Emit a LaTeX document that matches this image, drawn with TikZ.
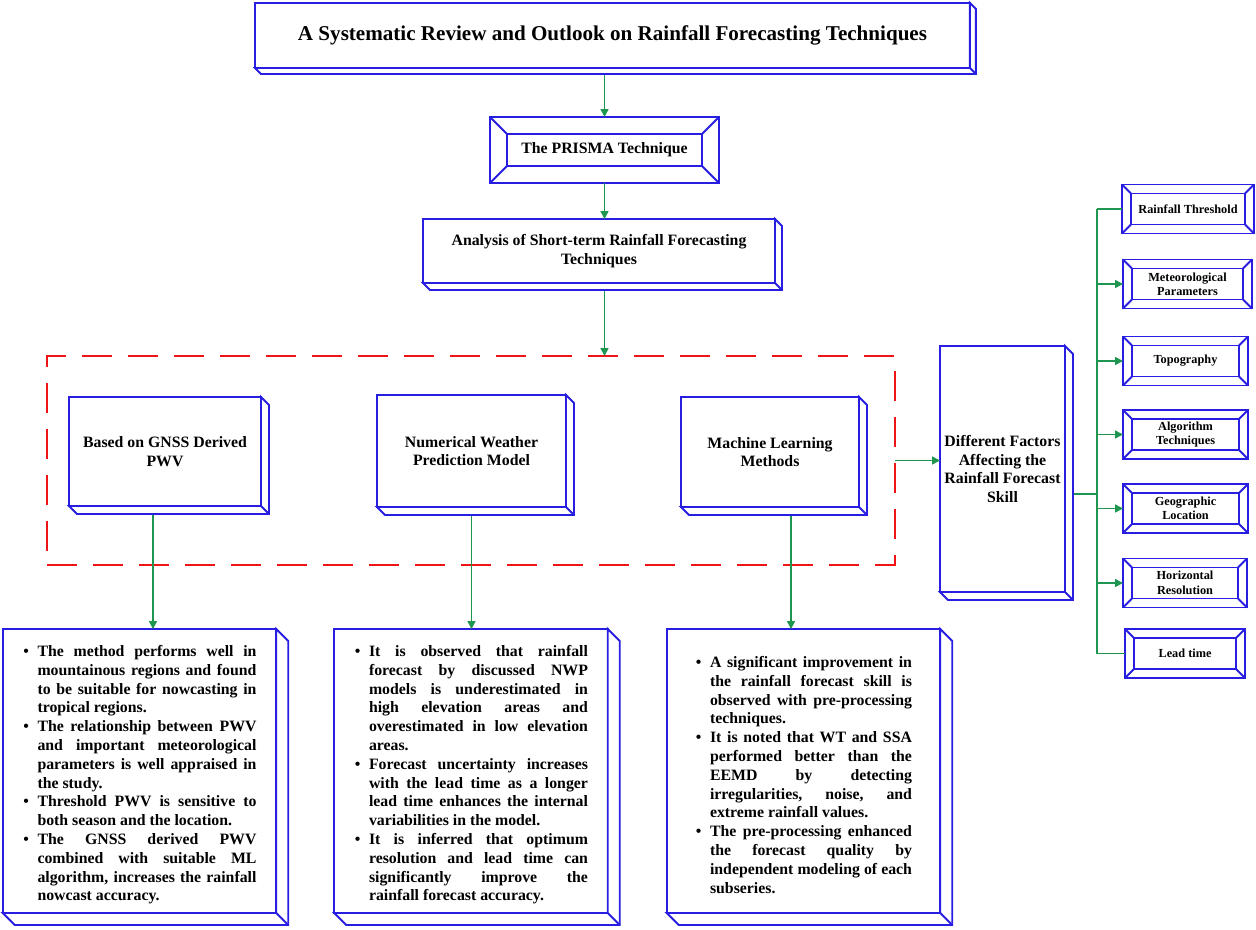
\documentclass[tikz,border=0pt]{standalone}
\usepackage{fontspec}
\setmainfont{Liberation Serif}
\usepackage{enumitem}
\usetikzlibrary{arrows.meta}
\definecolor{BoxBlue}{RGB}{40,30,225}
\definecolor{LinkGreen}{RGB}{30,150,80}
\definecolor{FrameRed}{RGB}{240,20,20}
\setlist[itemize]{leftmargin=0.3cm,labelsep=0.17cm,itemsep=0pt,topsep=0pt,parsep=0pt,partopsep=0pt,label=\textbullet}
\tolerance=9999
\hbadness=10000
\begin{document}
\begin{tikzpicture}[x=0.02cm,y=-0.02cm,
        edge/.style={draw=BoxBlue,line width=1.1pt},
        plainbox/.style={edge,fill=white,inner sep=0pt,outer sep=0pt,align=center,font=\fontsize{9}{10.7}\selectfont\bfseries},
        sidebox/.style={plainbox,minimum height=0.98cm,font=\fontsize{7}{8.2}\selectfont\bfseries},
        listbox/.style={plainbox,minimum width=5.47cm,minimum height=5.68cm,text width=4.68cm,align=justify},
        link/.style={draw=LinkGreen,line width=0.85pt},
        arr/.style={link,-{Triangle[length=0.16cm,width=0.16cm]}}]
    \useasboundingbox (0,0) rectangle (1256,929);

    \node[plainbox,minimum width=14.3cm,minimum height=1.3cm,font=\fontsize{12}{14}\selectfont\bfseries] (Title) at (612.5,35.5) {A Systematic Review and Outlook on Rainfall Forecasting Techniques};
    \node[plainbox,minimum width=4.58cm,minimum height=1.32cm] (Prisma) at (604.5,150) {The PRISMA Technique};
    \node[plainbox,minimum width=7.04cm,minimum height=1.28cm] (Analysis) at (599,251) {Analysis of Short-term Rainfall Forecasting\\Techniques};

    \node[draw=FrameRed,line width=1.2pt,dash pattern=on 0.6cm off 0.32cm,minimum width=16.96cm,minimum height=4.18cm,inner sep=0pt,outer sep=0pt] (Group) at (471,460.5) {};
    \node[plainbox,minimum width=3.84cm,minimum height=2.18cm] (Gnss) at (165,451.5) {Based on GNSS Derived\\PWV};
    \node[plainbox,minimum width=3.78cm,minimum height=2.24cm] (Nwp) at (471.5,451) {Numerical Weather\\Prediction Model};
    \node[plainbox,minimum width=3.56cm,minimum height=2.2cm] (Ml) at (770,452) {Machine Learning\\Methods};
    \node[plainbox,minimum width=2.5cm,minimum height=4.92cm] (Factors) at (1002.5,469) {Different Factors\\Affecting the\\Rainfall Forecast\\Skill};

    \node[sidebox,minimum width=2.64cm] (Threshold) at (1188,209) {Rainfall Threshold};
    \node[sidebox,minimum width=2.58cm] (MetParams) at (1187.5,284) {Meteorological\\Parameters};
    \node[sidebox,minimum width=2.5cm] (Topography) at (1185.5,361) {Topography};
    \node[sidebox,minimum width=2.5cm] (Algorithm) at (1185.5,434.5) {Algorithm\\Techniques};
    \node[sidebox,minimum width=2.5cm] (Location) at (1185.5,508.5) {Geographic\\Location};
    \node[sidebox,minimum width=2.48cm] (Resolution) at (1185,583) {Horizontal\\Resolution};
    \node[sidebox,minimum width=2.4cm] (LeadTime) at (1185,653.5) {Lead time};

    \node[listbox] (ListGnss) at (139.5,771) {%
        \begin{itemize}
            \item The method performs well in\linebreak mountainous regions and found\linebreak to be suitable for nowcasting in\linebreak tropical regions.
            \item The relationship between PWV\linebreak and important meteorological\linebreak parameters is well appraised in\linebreak the study.
            \item Threshold PWV is sensitive to\linebreak both season and the location.
            \item The GNSS derived PWV\linebreak combined with suitable ML\linebreak algorithm, increases the rainfall\linebreak nowcast accuracy.
        \end{itemize}};
    \node[listbox] (ListNwp) at (471,771) {%
        \begin{itemize}
            \item It is observed that rainfall\linebreak forecast by discussed NWP\linebreak models is underestimated in\linebreak high elevation areas and\linebreak overestimated in low elevation\linebreak areas.
            \item Forecast uncertainty increases\linebreak with the lead time as a longer\linebreak lead time enhances the internal\linebreak variabilities in the model.
            \item It is inferred that optimum\linebreak resolution and lead time can\linebreak significantly improve the\linebreak rainfall forecast accuracy.
        \end{itemize}};
    \node[listbox,text width=4.34cm] (ListMl) at (803.5,771) {%
        \begin{itemize}
            \item A significant improvement in\linebreak the rainfall forecast skill is\linebreak observed with pre-processing\linebreak techniques.
            \item It is noted that WT and SSA\linebreak performed better than the\linebreak EEMD by detecting\linebreak irregularities, noise, and\linebreak extreme rainfall values.
            \item The pre-processing enhanced\linebreak the forecast quality by\linebreak independent modeling of each\linebreak subseries.
        \end{itemize}};

    \coordinate (Bus) at (1097,494);
    \path ([shift={(-12,8)}]Gnss.south) coordinate (GnssFoot);
    \path ([shift={(0,8)}]Nwp.south) coordinate (NwpFoot);
    \path ([shift={(21,8)}]Ml.south) coordinate (MlFoot);

    \draw[arr] (Title.south -| Prisma.north) -- (Prisma.north);
    \draw[arr] (Prisma.south) -- (Prisma.south |- Analysis.north);
    \draw[arr] (Analysis.south -| Prisma.south) -- (Group.north -| Prisma.south);
    \draw[arr] (GnssFoot) -- (GnssFoot |- ListGnss.north);
    \draw[arr] (NwpFoot) -- (NwpFoot |- ListNwp.north);
    \draw[arr] (MlFoot) -- (MlFoot |- ListMl.north);
    \draw[arr] (Group.east) -- (Group.east -| Factors.west);
    \draw[link] (Factors.east |- Bus) -- (Bus);
    \draw[link] (Bus |- Threshold.west) -- (Bus |- LeadTime.west);
    \draw[link] (Bus |- Threshold.west) -- (Threshold.west);
    \draw[link] (Bus |- LeadTime.west) -- (LeadTime.west);
    \foreach \n in {MetParams,Topography,Algorithm,Location,Resolution}
        \draw[arr] (Bus |- \n.west) -- (\n.west);

    \foreach \n/\d in {Title/6,Analysis/7,Gnss/8,Nwp/8,Ml/8,Factors/8,ListGnss/12,ListNwp/12,ListMl/12} {
        \draw[edge,fill=white] (\n.north east) -- ++(\d,\d) -- ([shift={(\d,\d)}]\n.south east) -- ([shift={(\d,\d)}]\n.south west) -- (\n.south west) -- (\n.south east) -- cycle;
        \draw[edge] (\n.south east) -- ++(\d,\d);
    }
    \foreach \n/\a in {Prisma/17,Threshold/9,MetParams/9,Topography/9,Algorithm/9,Location/9,Resolution/9,LeadTime/9} {
        \draw[edge] ([shift={(\a,\a)}]\n.north west) rectangle ([shift={(-\a,-\a)}]\n.south east);
        \draw[edge] (\n.north west) -- ([shift={(\a,\a)}]\n.north west)
                    (\n.north east) -- ([shift={(-\a,\a)}]\n.north east)
                    (\n.south east) -- ([shift={(-\a,-\a)}]\n.south east)
                    (\n.south west) -- ([shift={(\a,-\a)}]\n.south west);
    }
\end{tikzpicture}
\end{document}
